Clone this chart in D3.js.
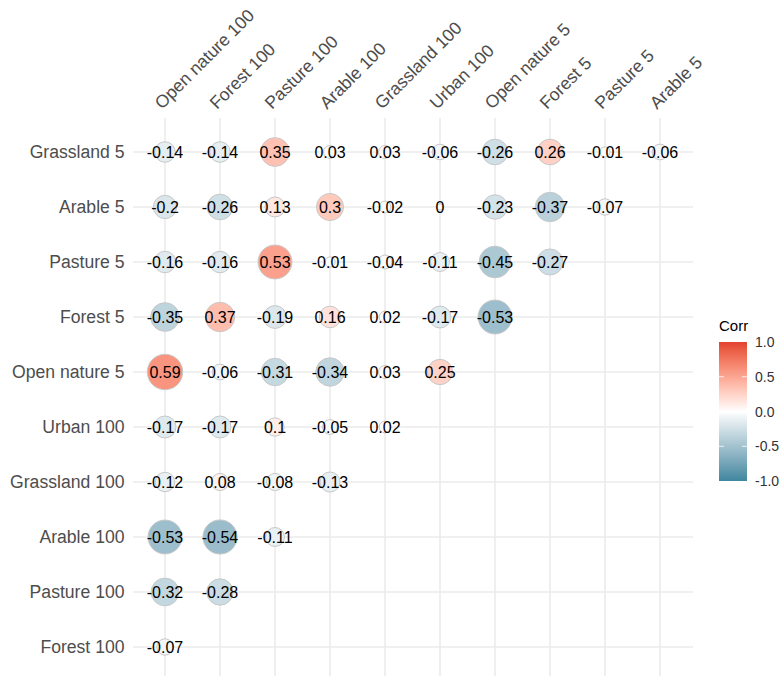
<!DOCTYPE html>
<html>
<head>
<meta charset="utf-8">
<script src="https://cdn.jsdelivr.net/npm/d3@7"></script>
<style>
  html, body { margin: 0; padding: 0; background: #fff; }
  svg { display: block; font-family: "Liberation Sans", Arial, sans-serif; }
</style>
</head>
<body>
<svg id="chart" width="783" height="676"></svg>
<script>
// ---- data ----
const columns = ["Open nature 100", "Forest 100", "Pasture 100", "Arable 100", "Grassland 100",
                 "Urban 100", "Open nature 5", "Forest 5", "Pasture 5", "Arable 5"];
const rows = ["Grassland 5", "Arable 5", "Pasture 5", "Forest 5", "Open nature 5",
              "Urban 100", "Grassland 100", "Arable 100", "Pasture 100", "Forest 100"];
const valuesGrassland5   = [-0.14, -0.14, 0.35, 0.03, 0.03, -0.06, -0.26, 0.26, -0.01, -0.06];
const valuesArable5      = [-0.2, -0.26, 0.13, 0.3, -0.02, 0, -0.23, -0.37, -0.07];
const valuesPasture5     = [-0.16, -0.16, 0.53, -0.01, -0.04, -0.11, -0.45, -0.27];
const valuesForest5      = [-0.35, 0.37, -0.19, 0.16, 0.02, -0.17, -0.53];
const valuesOpenNature5  = [0.59, -0.06, -0.31, -0.34, 0.03, 0.25];
const valuesUrban100     = [-0.17, -0.17, 0.1, -0.05, 0.02];
const valuesGrassland100 = [-0.12, 0.08, -0.08, -0.13];
const valuesArable100    = [-0.53, -0.54, -0.11];
const valuesPasture100   = [-0.32, -0.28];
const valuesForest100    = [-0.07];
const rowValues = [valuesGrassland5, valuesArable5, valuesPasture5, valuesForest5, valuesOpenNature5,
                   valuesUrban100, valuesGrassland100, valuesArable100, valuesPasture100, valuesForest100];
const legendTicks = [1.0, 0.5, 0.0, -0.5, -1.0];
const legendTitle = "Corr";

// ---- build cell table ----
const cells = [];
rows.forEach((r, i) => rowValues[i].forEach((v, j) => cells.push({row: r, col: columns[j], value: v})));

// ---- scales ----
const x = d3.scalePoint().domain(columns).range([165, 660]);
const y = d3.scalePoint().domain(rows).range([152, 647]);
const lowC = "#3f87a0", midC = "#ffffff", highC = "#e2412f";
const color = d3.scaleLinear().domain([-1, 0, 1]).range([lowC, midC, highC]).interpolate(d3.interpolateLab);
const maxAbs = d3.max(cells, d => Math.abs(d.value));
const rScale = d3.scaleSqrt().domain([0, maxAbs]).range([3.2, 17.7]);

const svg = d3.select("#chart");
const gridColor = "#ebebeb";
const textGrey = "#4d4d4d";

// ---- grid ----
const panelLeft = 133, panelRight = 693, panelTop = 118, panelBottom = 690;
svg.append("g").selectAll("line").data(rows).join("line")
  .attr("x1", panelLeft).attr("x2", panelRight)
  .attr("y1", d => y(d)).attr("y2", d => y(d))
  .attr("stroke", gridColor).attr("stroke-width", 1.6);
svg.append("g").selectAll("line").data(columns).join("line")
  .attr("y1", panelTop).attr("y2", panelBottom)
  .attr("x1", d => x(d)).attr("x2", d => x(d))
  .attr("stroke", gridColor).attr("stroke-width", 1.6);

// ---- circles ----
svg.append("g").selectAll("circle").data(cells).join("circle")
  .attr("cx", d => x(d.col)).attr("cy", d => y(d.row))
  .attr("r", d => rScale(Math.abs(d.value)))
  .attr("fill", d => color(d.value))
  .attr("stroke", "#c8c8c8").attr("stroke-width", 1);

// ---- labels ----
svg.append("g").selectAll("text").data(cells).join("text")
  .attr("x", d => x(d.col)).attr("y", d => y(d.row))
  .attr("text-anchor", "middle").attr("dy", "0.36em")
  .attr("font-size", 16).attr("fill", "#000")
  .text(d => String(d.value));

// ---- y axis labels ----
svg.append("g").selectAll("text").data(rows).join("text")
  .attr("x", 124.5).attr("y", d => y(d))
  .attr("text-anchor", "end").attr("dy", "0.36em")
  .attr("font-size", 17.6).attr("fill", textGrey)
  .text(d => d);

// ---- x axis labels (top, rotated) ----
svg.append("g").selectAll("text").data(columns).join("text")
  .attr("transform", d => `translate(${x(d) - 3},${110}) rotate(-45)`)
  .attr("text-anchor", "start")
  .attr("font-size", 17.6).attr("fill", textGrey)
  .text(d => d);

// ---- legend ----
const legX = 719, legW = 28, legTop = 342, legBottom = 481;
const ly = d3.scaleLinear().domain([1, -1]).range([legTop, legBottom]);
const defs = svg.append("defs");
const grad = defs.append("linearGradient").attr("id", "corrGrad")
  .attr("x1", 0).attr("x2", 0).attr("y1", 0).attr("y2", 1);
d3.range(0, 1.0001, 0.05).forEach(t => {
  grad.append("stop").attr("offset", t).attr("stop-color", color(1 - 2 * t));
});
svg.append("rect").attr("x", legX).attr("y", legTop).attr("width", legW)
  .attr("height", legBottom - legTop).attr("fill", "url(#corrGrad)");
const tg = svg.append("g");
legendTicks.forEach(v => {
  tg.append("line").attr("x1", legX).attr("x2", legX + 5).attr("y1", ly(v)).attr("y2", ly(v))
    .attr("stroke", "#fff").attr("stroke-width", 1).attr("opacity", v === 1 || v === -1 ? 0 : 0.8);
  tg.append("line").attr("x1", legX + legW - 5).attr("x2", legX + legW).attr("y1", ly(v)).attr("y2", ly(v))
    .attr("stroke", "#fff").attr("stroke-width", 1).attr("opacity", v === 1 || v === -1 ? 0 : 0.8);
  tg.append("text").attr("x", 755).attr("y", ly(v)).attr("dy", "0.36em")
    .attr("font-size", 14).attr("fill", "#333")
    .text(d3.format(".1f")(v).replace("−", "-"));
});
svg.append("text").attr("x", 719).attr("y", 331).attr("font-size", 15).attr("fill", "#000")
  .text(legendTitle);
</script>
</body>
</html>
